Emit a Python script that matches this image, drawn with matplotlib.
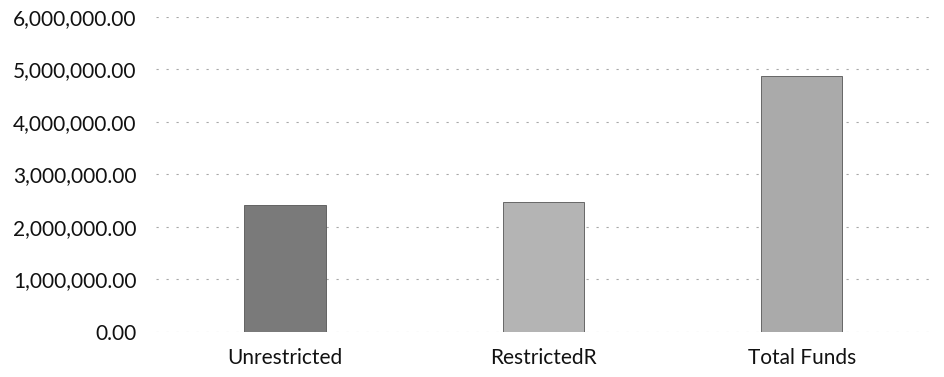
import matplotlib.pyplot as plt
from matplotlib.ticker import FuncFormatter

categories = ["Unrestricted", "RestrictedR", "Total Funds"]
values = [2420000, 2470000, 4880000]
bar_colors = ["#7a7a7a", "#b4b4b4", "#aaaaaa"]
y_ticks = [0, 1000000, 2000000, 3000000, 4000000, 5000000, 6000000]

plt.rcParams["font.family"] = ["Lato", "DejaVu Sans"]

fig = plt.figure(figsize=(9.45, 3.77), dpi=100)
ax = fig.add_axes([0.165, 0.12, 0.82, 0.835])

x = range(len(categories))
ax.bar(x, values, width=0.315, color=bar_colors, edgecolor="#555555", linewidth=0.6, zorder=3)

ax.set_ylim(0, 6000000)
ax.set_xlim(-0.5, 2.5)
ax.set_yticks(y_ticks)
ax.yaxis.set_major_formatter(FuncFormatter(lambda v, p: f"{v:,.2f}"))
ax.set_xticks(list(x))
ax.set_xticklabels(categories)
ax.grid(axis="y", color="#a8a8a8", linestyle=(0, (2, 7)), linewidth=0.8, zorder=0)
ax.axhline(0, color="#999999", linestyle=(0, (4, 4)), linewidth=0.7, zorder=1)

for s in ax.spines.values():
    s.set_visible(False)
ax.tick_params(axis="both", length=0, labelsize=15, colors="#111111")
ax.tick_params(axis="y", pad=14)
ax.tick_params(axis="x", pad=12)

fig.savefig("out.png")
